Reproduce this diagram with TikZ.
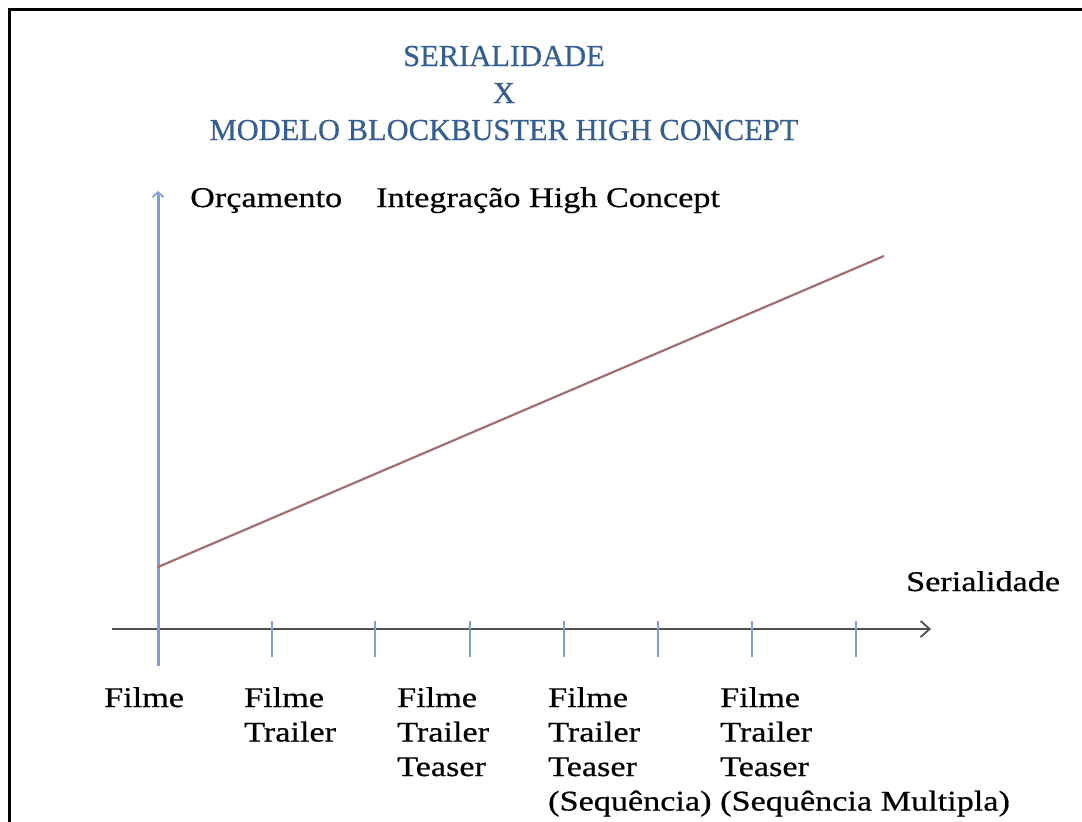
\documentclass[tikz,border=0pt]{standalone}
\usepackage{fontspec}
\usetikzlibrary{arrows.meta}
\newfontfamily\bodyfont{Liberation Serif}[FakeStretch=1.2,FakeBold=0.6]
\newfontfamily\titlefont{Liberation Serif}[FakeBold=0.6]
\definecolor{titleblue}{RGB}{54,95,145}
\definecolor{axisblue}{RGB}{125,162,210}
\definecolor{axisgray}{RGB}{80,80,80}
\definecolor{trendred}{RGB}{160,110,110}
\tikzset{
  frame/.style={line width=3pt, black},
  yaxis/.style={line width=3pt, axisblue, -{Straight Barb[length=5pt,width=11pt,line width=1.8pt]}},
  xaxis/.style={line width=2.2pt, axisgray, -{Straight Barb[length=9pt,width=16pt,line width=1.8pt]}},
  tickline/.style={line width=2.8pt, axisblue},
  trend/.style={line width=2.2pt, trendred},
  lbl/.style={inner sep=0pt, anchor=base west, align=left, font=\bodyfont\fontsize{28.5}{34.5}\selectfont},
  ttl/.style={inner sep=0pt, anchor=base, align=center, text=titleblue, font=\titlefont\fontsize{30.5}{37}\selectfont}
}
\begin{document}
\begin{tikzpicture}[x=1pt,y=-1pt]
\useasboundingbox (0,0) rectangle (1082,822);
% frame
\coordinate (fb) at (9.5,822);
\coordinate (fc) at (9.5,9.5);
\coordinate (fr) at (1082,9.5);
\draw[frame] (fb) -- (fc) -- (fr);
% title (base = baseline of last line)
\node[ttl] (title) at (504,140) {SERIALIDADE\\X\\MODELO BLOCKBUSTER HIGH CONCEPT};
% axes
\coordinate (yb) at (158,666);
\coordinate (yt) at (158,191);
\coordinate (xl) at (112,629);
\coordinate (xr) at (931,629);
\draw[xaxis] (xl) -- (xr);
\draw[yaxis] (yb) -- (yt);
% ticks
\foreach \i/\x in {1/272,2/375,3/470,4/564,5/658,6/752,7/856}{
  \coordinate (t\i a) at (\x,621);
  \coordinate (t\i b) at (\x,657);
  \draw[tickline] (t\i a) -- (t\i b);
}
% trend line
\coordinate (ls) at (158,567);
\coordinate (le) at (884,256);
\draw[trend] (ls) -- (le);
% axis labels
\node[lbl] (orc) at (190,207) {Orçamento};
\node[lbl] (integ) at (376,207) {Integração High Concept};
\node[lbl] (ser) at (906,591) {Serialidade};
% category labels (base = baseline of last line)
\node[lbl] (c1) at (104,707) {Filme};
\node[lbl] (c2) at (244,741.5) {Filme\\Trailer};
\node[lbl] (c3) at (397,776) {Filme\\Trailer\\Teaser};
\node[lbl] (c4) at (548,810.5) {Filme\\Trailer\\Teaser\\(Sequência)};
\node[lbl] (c5) at (720,810.5) {Filme\\Trailer\\Teaser\\(Sequência Multipla)};
\end{tikzpicture}
\end{document}
